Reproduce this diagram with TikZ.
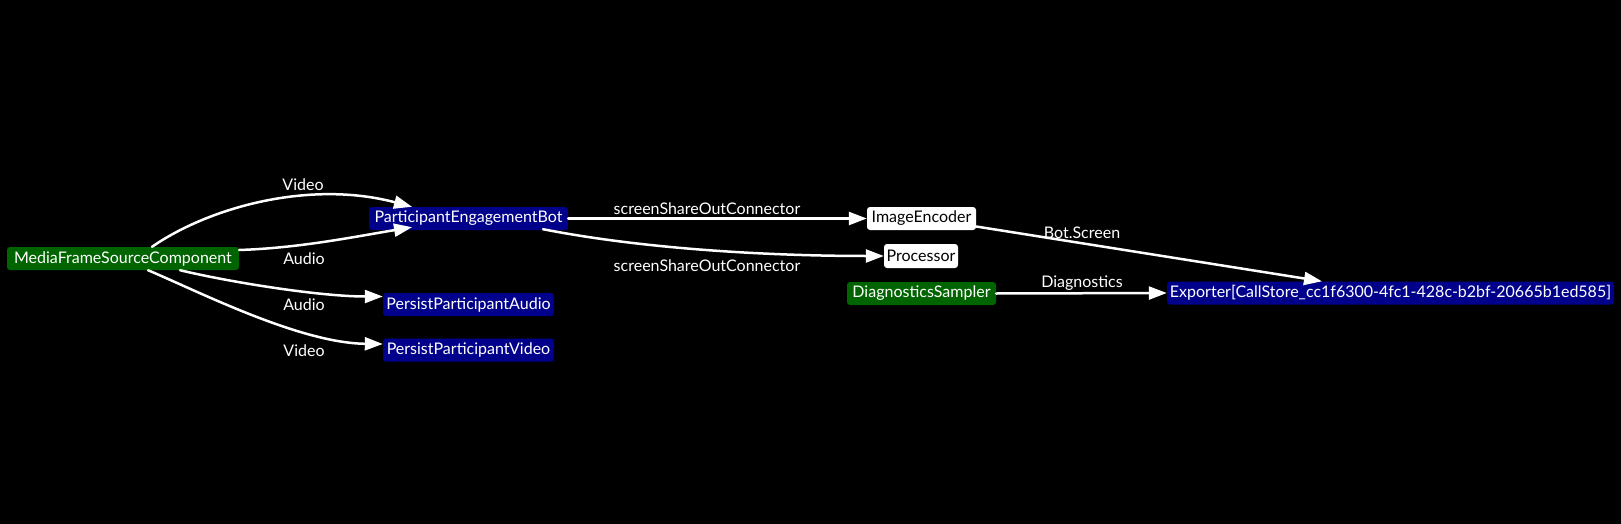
\documentclass[tikz,border=0pt]{standalone}
\usepackage{fontspec}
\setmainfont{Lato}
\usetikzlibrary{arrows.meta,calc}
\definecolor{boxgreen}{RGB}{0,100,0}
\definecolor{boxblue}{RGB}{0,0,139}
\begin{document}
\begin{tikzpicture}[x=1pt,y=-1pt,
  every node/.style={font=\fontsize{16}{19}\selectfont},
  box/.style={rounded corners=3pt,minimum height=23pt,inner xsep=1pt,inner ysep=0pt},
  source/.style={box,fill=boxgreen,text=white},
  sink/.style={box,fill=boxblue,text=white},
  plain/.style={box,fill=white,text=black},
  flow/.style={draw=white,line width=2.5pt,line cap=round,-{Triangle[length=18pt,width=13pt]}},
  tag/.style={text=white,inner sep=0pt}]
  \fill[black] (0,0) rectangle (1621,524);
  % components
  \node[source,minimum width=232pt] (mfsc) at (123,258.5) {MediaFrameSourceComponent};
  \node[sink,minimum width=199pt] (peb) at (468.5,218.5) {ParticipantEngagementBot};
  \node[sink,minimum width=171pt] (ppa) at (468.5,304.5) {PersistParticipantAudio};
  \node[sink,minimum width=171pt] (ppv) at (468.5,350) {PersistParticipantVideo};
  \node[plain,minimum width=109pt] (ie) at (921.5,218.5) {ImageEncoder};
  \node[plain,minimum width=74pt,minimum height=24pt] (proc) at (921,256) {Processor};
  \node[source,minimum width=149pt] (ds) at (921.5,293.5) {DiagnosticsSampler};
  \node[sink,minimum width=447pt] (exp) at (1390.5,293) {Exporter[CallStore\_cc1f6300-4fc1-428c-b2bf-20665b1ed585]};
  % streams
  \draw[flow] ($(mfsc.north)+(29,0)$) .. controls +(58,-40) and +(-102,-27) .. ($(peb.north)+(-56.5,0)$);
  \draw[flow] ($(mfsc.east)+(0,-8.5)$) .. controls +(60,-2) and +(-60,10) .. ($(peb.south)+(-56.5,-3)$);
  \draw[flow] ($(mfsc.south)+(57,0)$) .. controls +(50,12) and +(-63,0) .. ($(ppa.west)+(0,-8)$);
  \draw[flow] ($(mfsc.south)+(25,0)$) .. controls +(52,22) and +(-83,-1) .. ($(ppv.west)+(0,-6)$);
  \draw[flow] (peb.east) -- (ie.west);
  \draw[flow] ($(peb.south)+(74.5,-1)$) .. controls +(107,21) and +(-104,0) .. (proc.west);
  \draw[flow] ($(ie.east)+(0,8)$) -- ($(exp.north)+(-68.5,0)$);
  \draw[flow] (ds.east) -- (exp.west);
  % stream names
  \node[tag] (tVideoA) at (303,185) {Video};
  \node[tag] (tAudioA) at (304,259) {Audio};
  \node[tag] (tAudioB) at (304,305) {Audio};
  \node[tag] (tVideoB) at (304,351) {Video};
  \node[tag] (tShareA) at (707,209) {screenShareOutConnector};
  \node[tag] (tShareB) at (707,266) {screenShareOutConnector};
  \node[tag] (tScreen) at (1082,233) {Bot.Screen};
  \node[tag] (tDiag) at (1082,283) {Diagnostics};
\end{tikzpicture}
\end{document}
